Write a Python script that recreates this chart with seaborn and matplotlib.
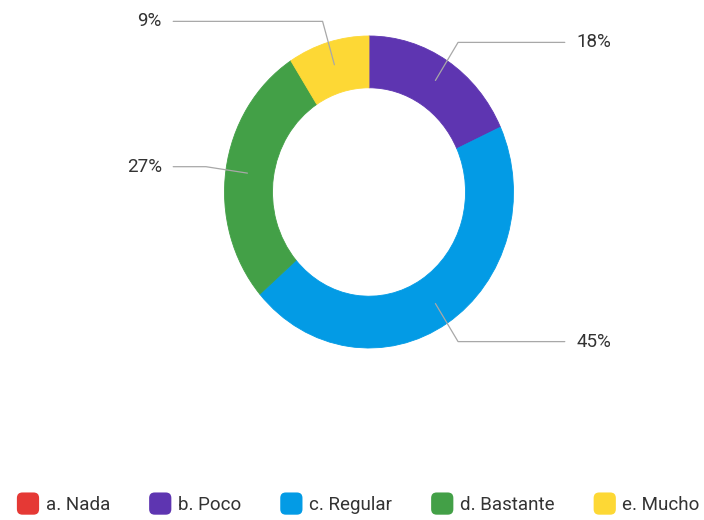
import numpy as np
import matplotlib
matplotlib.use('Agg')
import matplotlib.pyplot as plt
import seaborn as sns
from matplotlib.patches import FancyBboxPatch
from matplotlib.legend_handler import HandlerPatch

# data
categories = ['a. Nada', 'b. Poco', 'c. Regular', 'd. Bastante', 'e. Mucho']
counts = [0, 2, 5, 3, 1]
colors = ['#E53935', '#5E35B1', '#039BE5', '#43A047', '#FDD835']

sns.set_theme(style='white')
plt.rcParams['font.family'] = ['Roboto', 'DejaVu Sans']
text_color = '#333333'

fig = plt.figure(figsize=(7.04, 5.2), dpi=100)
ax = fig.add_axes([0, 0, 1, 1])

wedges, _ = ax.pie(counts, colors=colors, startangle=90, counterclock=False,
                   radius=1, wedgeprops=dict(width=0.332, linewidth=0.6, antialiased=True))
for w, c in zip(wedges, colors):
    w.set_edgecolor(c)

# stretched like the original (ellipse)
ax.set_aspect('auto')
ax.set_xlim(-369 / 144.5, 335 / 144.5)
ax.set_ylim(-328 / 156, 192 / 156)
ax.axis('off')

# leader lines and percentage labels
total = sum(counts)
for w, v in zip(wedges, counts):
    if v == 0:
        continue
    ang = np.deg2rad((w.theta1 + w.theta2) / 2)
    x0, y0 = 0.85 * np.cos(ang), 0.85 * np.sin(ang)
    x1, y1 = 1.14 * np.cos(ang), 1.14 * np.sin(ang)
    side = 1 if x1 > 0 else -1
    x2 = 1.355 * side
    ax.plot([x0, x1, x2], [y0, y1, y1], color='#a8a8a8', lw=0.9,
            solid_joinstyle='round')
    ax.text(1.433 * side, y1, f'{round(100 * v / total)}%',
            ha='left' if side > 0 else 'right', va='center',
            fontsize=13.5, color=text_color)


class RoundSquare(HandlerPatch):
    def create_artists(self, legend, orig_handle, xdescent, ydescent,
                       width, height, fontsize, trans):
        s = 16.0  # points, ~22 px
        p = FancyBboxPatch((-xdescent + (width - s) / 2, -ydescent + (height - s) / 2),
                           s, s, boxstyle='round,pad=0,rounding_size=%f' % (s * 0.25),
                           facecolor=orig_handle.get_facecolor(), edgecolor='none',
                           transform=trans)
        return [p]


handles = [plt.Rectangle((0, 0), 1, 1, facecolor=c) for c in colors]
fig.legend(handles, categories, loc='center', bbox_to_anchor=(0.509, 0.029),
           ncol=5, frameon=False, fontsize=13.5, labelcolor=text_color,
           handlelength=1.17, handleheight=0.9, handletextpad=0.35,
           columnspacing=2.1, borderpad=0,
           handler_map={plt.Rectangle: RoundSquare()})

fig.savefig('out.png', dpi=100)
